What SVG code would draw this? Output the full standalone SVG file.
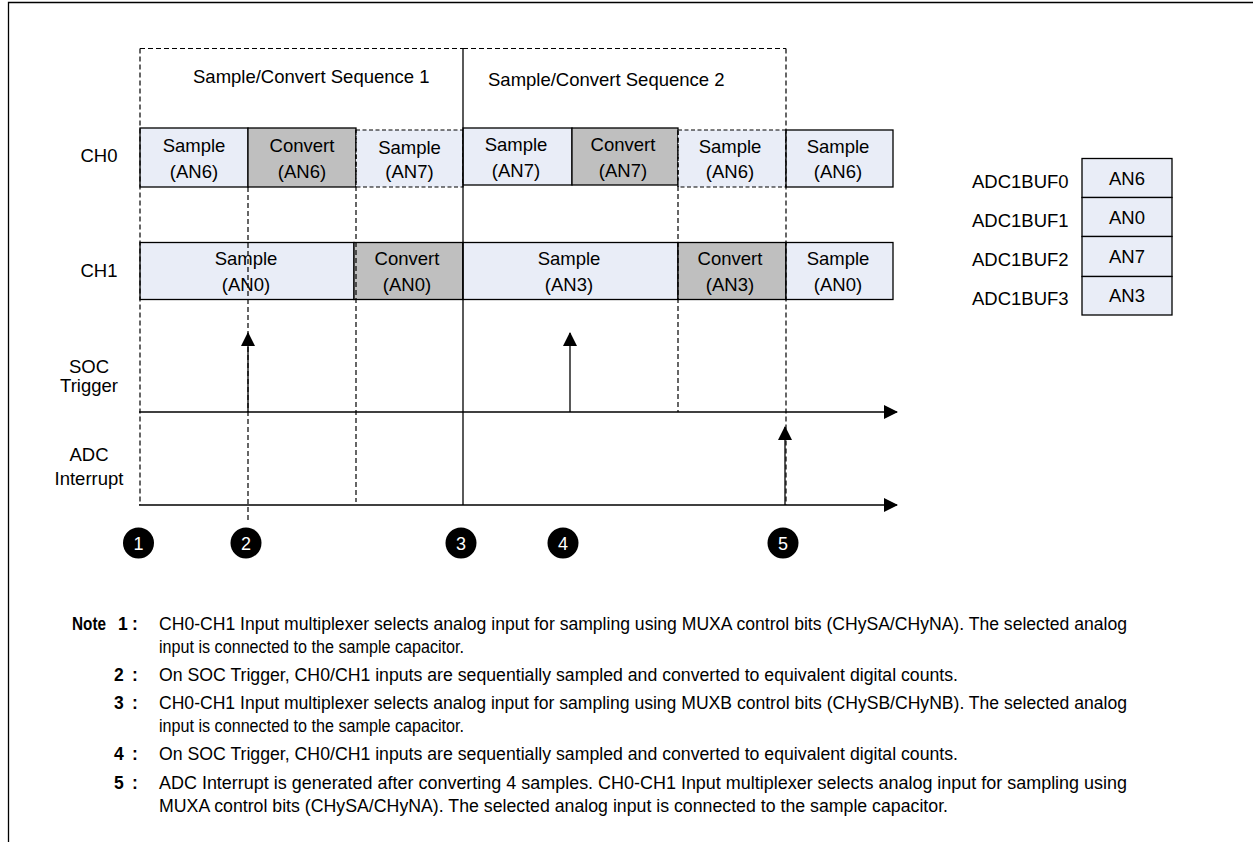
<svg xmlns="http://www.w3.org/2000/svg" width="1253" height="842" viewBox="0 0 1253 842">
<style>
text{font-family:"Liberation Sans",Arial,Helvetica,sans-serif;fill:#000}
.lbl{font-size:18.5px}
.c{text-anchor:middle}
.note{font-size:17.5px}
.b{font-weight:bold}
.samp{fill:#E9EDF7;stroke:#000;stroke-width:1.3}
.sampd{fill:#E9EDF7;stroke:#000;stroke-width:1.2;stroke-dasharray:4 2.5}
.conv{fill:#BFBFBF;stroke:#000;stroke-width:1.3}
.buf{fill:#E9EDF7;stroke:#000;stroke-width:1.3}
.dash{stroke:#000;stroke-width:1.2;stroke-dasharray:5 3;fill:none}
.solid{stroke:#000;stroke-width:1.3;fill:none}
.num{fill:#fff;font-size:18px;text-anchor:middle}
</style>
<defs>
<marker id="ah" viewBox="0 0 14 14" refX="13" refY="7" markerWidth="14" markerHeight="14" markerUnits="userSpaceOnUse" orient="auto">
<path d="M0,0 L14,7 L0,14 Z" fill="#000"/>
</marker>
</defs>
<rect width="1253" height="842" fill="#fff"/>
<path d="M8.5,842 V2.5 H1253" fill="none" stroke="#000" stroke-width="1.3"/>

<g id="seq1">
<path class="dash" d="M140,48.5 H463"/>
<text class="lbl" x="193" y="83">Sample/Convert Sequence 1</text>
</g>
<g id="seq2">
<path class="dash" d="M463,48.5 H786"/>
<text class="lbl" x="488" y="86">Sample/Convert Sequence 2</text>
</g>

<g id="lbl-ch0"><text class="lbl c" x="99" y="162">CH0</text></g>
<g id="lbl-ch1"><text class="lbl c" x="99" y="277">CH1</text></g>
<g id="lbl-soc"><text class="lbl c" x="89" y="373">SOC</text><text class="lbl c" x="89" y="392">Trigger</text></g>
<g id="lbl-adc"><text class="lbl c" x="89" y="461">ADC</text><text class="lbl c" x="89" y="485">Interrupt</text></g>

<g id="ch0-s-an6"><rect class="samp" x="140" y="128" width="108" height="59"/><text class="lbl c" x="194" y="152">Sample</text><text class="lbl c" x="194" y="178">(AN6)</text></g>
<g id="ch0-c-an6"><rect class="conv" x="248" y="128" width="108" height="59"/><text class="lbl c" x="302" y="152">Convert</text><text class="lbl c" x="302" y="178">(AN6)</text></g>
<g id="ch0-s-an7a"><rect class="sampd" x="356" y="130" width="107" height="57"/><text class="lbl c" x="409.5" y="154">Sample</text><text class="lbl c" x="409.5" y="178">(AN7)</text></g>
<g id="ch0-s-an7b"><rect class="samp" x="463" y="128" width="109" height="57"/><text class="lbl c" x="516" y="151">Sample</text><text class="lbl c" x="516" y="177">(AN7)</text></g>
<g id="ch0-c-an7"><rect class="conv" x="572" y="128" width="106" height="57"/><text class="lbl c" x="623" y="151">Convert</text><text class="lbl c" x="623" y="177">(AN7)</text></g>
<g id="ch0-s-an6b"><rect class="sampd" x="678" y="130" width="108" height="57"/><text class="lbl c" x="730" y="153">Sample</text><text class="lbl c" x="730" y="178">(AN6)</text></g>
<g id="ch0-s-an6c"><rect class="samp" x="786" y="130" width="107" height="57"/><text class="lbl c" x="838" y="153">Sample</text><text class="lbl c" x="838" y="178">(AN6)</text></g>

<g id="ch1-s-an0"><rect class="samp" x="140" y="242.5" width="214" height="57"/><text class="lbl c" x="246" y="265">Sample</text><text class="lbl c" x="246" y="291">(AN0)</text></g>
<g id="ch1-c-an0"><rect class="conv" x="354" y="242.5" width="109" height="57"/><text class="lbl c" x="407" y="265">Convert</text><text class="lbl c" x="407" y="291">(AN0)</text></g>
<g id="ch1-s-an3"><rect class="samp" x="463" y="242.5" width="215" height="57"/><text class="lbl c" x="569" y="265">Sample</text><text class="lbl c" x="569" y="291">(AN3)</text></g>
<g id="ch1-c-an3"><rect class="conv" x="678" y="242.5" width="108" height="57"/><text class="lbl c" x="730" y="265">Convert</text><text class="lbl c" x="730" y="291">(AN3)</text></g>
<g id="ch1-s-an0b"><rect class="samp" x="786" y="242.5" width="107" height="57"/><text class="lbl c" x="838" y="265">Sample</text><text class="lbl c" x="838" y="291">(AN0)</text></g>

<g id="buffers">
<rect class="buf" x="1082" y="158.5" width="90" height="39"/>
<rect class="buf" x="1082" y="197.5" width="90" height="39"/>
<rect class="buf" x="1082" y="236.5" width="90" height="40"/>
<rect class="buf" x="1082" y="276.5" width="90" height="38.5"/>
<text class="lbl c" x="1127" y="185">AN6</text>
<text class="lbl c" x="1127" y="224">AN0</text>
<text class="lbl c" x="1127" y="263">AN7</text>
<text class="lbl c" x="1127" y="302">AN3</text>
<text class="lbl" x="972" y="188">ADC1BUF0</text>
<text class="lbl" x="972" y="227">ADC1BUF1</text>
<text class="lbl" x="972" y="266">ADC1BUF2</text>
<text class="lbl" x="972" y="305">ADC1BUF3</text>
</g>

<g id="connectors">
<path class="dash" d="M140,48.5 V505"/>
<path class="dash" d="M248,187 V523"/>
<path class="dash" d="M356,130 V502"/>
<path class="dash" d="M678,130 V412"/>
<path class="dash" d="M786,48.5 V505"/>
<path class="solid" d="M463,48.5 V505"/>
<path class="solid" d="M139,412 H897" marker-end="url(#ah)"/>
<path class="solid" d="M139,505 H897" marker-end="url(#ah)"/>
<path class="solid" d="M248,412 V333" marker-end="url(#ah)"/>
<path class="solid" d="M570,412 V333" marker-end="url(#ah)"/>
<path class="solid" d="M785,505 V427" marker-end="url(#ah)"/>
</g>

<g id="m1"><circle cx="138.5" cy="543" r="15.5" fill="#000"/><text class="num" x="138.5" y="549.5">1</text></g>
<g id="m2"><circle cx="246" cy="543" r="15.5" fill="#000"/><text class="num" x="246" y="549.5">2</text></g>
<g id="m3"><circle cx="461" cy="543" r="15.5" fill="#000"/><text class="num" x="461" y="549.5">3</text></g>
<g id="m4"><circle cx="563" cy="543" r="15.5" fill="#000"/><text class="num" x="563" y="549.5">4</text></g>
<g id="m5"><circle cx="783" cy="543" r="15.5" fill="#000"/><text class="num" x="783" y="549.5">5</text></g>

<g id="notes">
<text class="note b" x="72" y="630" textLength="34" lengthAdjust="spacingAndGlyphs">Note</text>
<text class="note b" y="630"><tspan x="118">1</tspan><tspan x="132">:</tspan></text>
<text class="note" x="159" y="630" textLength="968" lengthAdjust="spacingAndGlyphs">CH0-CH1 Input multiplexer selects analog input for sampling using MUXA control bits (CHySA/CHyNA). The selected analog</text>
<text class="note" x="159" y="652.5" textLength="305" lengthAdjust="spacingAndGlyphs">input is connected to the sample capacitor.</text>
<text class="note b" y="681"><tspan x="114">2</tspan><tspan x="132">:</tspan></text>
<text class="note" x="159" y="681" textLength="799" lengthAdjust="spacingAndGlyphs">On SOC Trigger, CH0/CH1 inputs are sequentially sampled and converted to equivalent digital counts.</text>
<text class="note b" y="709"><tspan x="114">3</tspan><tspan x="132">:</tspan></text>
<text class="note" x="159" y="709" textLength="968" lengthAdjust="spacingAndGlyphs">CH0-CH1 Input multiplexer selects analog input for sampling using MUXB control bits (CHySB/CHyNB). The selected analog</text>
<text class="note" x="159" y="731.5" textLength="305" lengthAdjust="spacingAndGlyphs">input is connected to the sample capacitor.</text>
<text class="note b" y="760"><tspan x="114">4</tspan><tspan x="132">:</tspan></text>
<text class="note" x="159" y="760" textLength="799" lengthAdjust="spacingAndGlyphs">On SOC Trigger, CH0/CH1 inputs are sequentially sampled and converted to equivalent digital counts.</text>
<text class="note b" y="789"><tspan x="114">5</tspan><tspan x="132">:</tspan></text>
<text class="note" x="159" y="789" textLength="968" lengthAdjust="spacingAndGlyphs">ADC Interrupt is generated after converting 4 samples. CH0-CH1 Input multiplexer selects analog input for sampling using</text>
<text class="note" x="159" y="811.5" textLength="789" lengthAdjust="spacingAndGlyphs">MUXA control bits (CHySA/CHyNA). The selected analog input is connected to the sample capacitor.</text>
</g>
</svg>
